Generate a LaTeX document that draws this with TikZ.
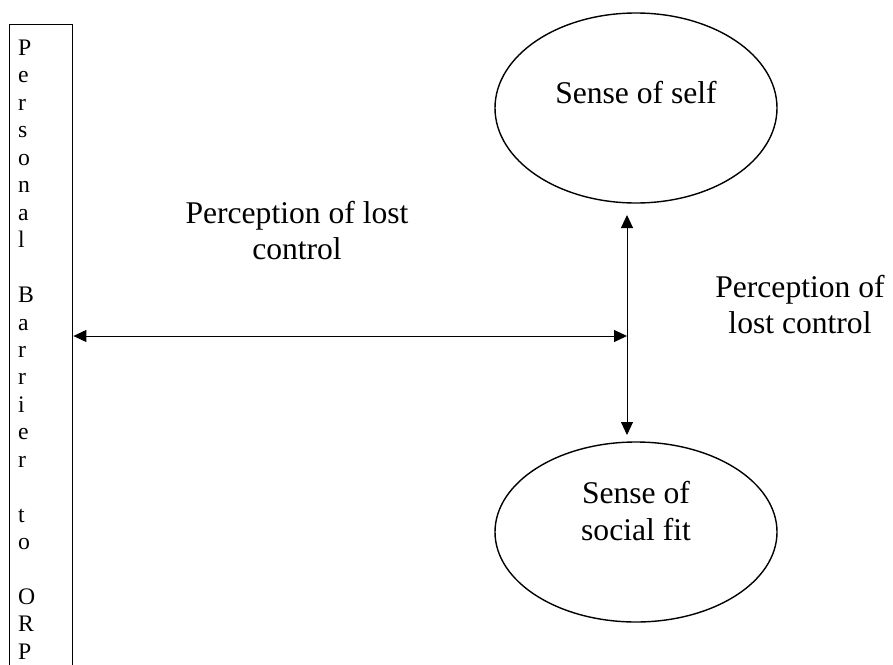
\documentclass[tikz,border=0pt]{standalone}
\usepackage{fontspec}
\setmainfont{Liberation Serif}
\usetikzlibrary{shapes.geometric,arrows.meta}
\begin{document}
\begin{tikzpicture}[x=1pt,y=-1pt,
  shapeline/.style={draw=black,line width=1.4pt},
  bubble/.style={shapeline,ellipse,inner sep=0pt,minimum width=282pt},
  bigtext/.style={font=\fontsize{31.6}{37}\selectfont,inner sep=0pt,anchor=base},
  lettertext/.style={font=\fontsize{23.7}{27.5}\selectfont,inner sep=0pt,anchor=base west},
  link/.style={line width=1pt,{Triangle[length=13pt,width=12pt]}-{Triangle[length=13pt,width=12pt]}}]
  \useasboundingbox (0,0) rectangle (893,664);

  % tall barrier box running off the bottom of the page
  \node[shapeline,rectangle,anchor=north west,minimum width=63pt,minimum height=690pt,inner sep=0pt] (barrier) at (9,24) {};
  \foreach \ch [count=\i] in {P,e,r,s,o,n,a,l,{},B,a,r,r,i,e,r,{},t,o,{},O,R,P}
    \node[lettertext] (letter\i) at (18,{55.5+(\i-1)*27.45}) {\ch};

  % the two senses
  \node[bubble,minimum height=190pt] (self) at (636,108) {};
  \node[bigtext] (selftext) at (636,103) {Sense of self};
  \node[bubble,minimum height=180pt] (social) at (636,532) {};
  \node[bigtext] (socialtextA) at (636,503) {Sense of};
  \node[bigtext] (socialtextB) at (636,540) {social fit};

  % connectors
  \coordinate (up) at (627,215);
  \coordinate (down) at (627,435);
  \coordinate (junction) at (627,336);
  \draw[link] (up) -- (down);
  \draw[link] (barrier.east |- junction) -- (junction);

  % labels
  \node[bigtext] (leftlabelA) at (297,223) {Perception of lost};
  \node[bigtext] (leftlabelB) at (297,259) {control};
  \node[bigtext] (rightlabelA) at (800,297) {Perception of};
  \node[bigtext] (rightlabelB) at (800,333) {lost control};
\end{tikzpicture}
\end{document}
